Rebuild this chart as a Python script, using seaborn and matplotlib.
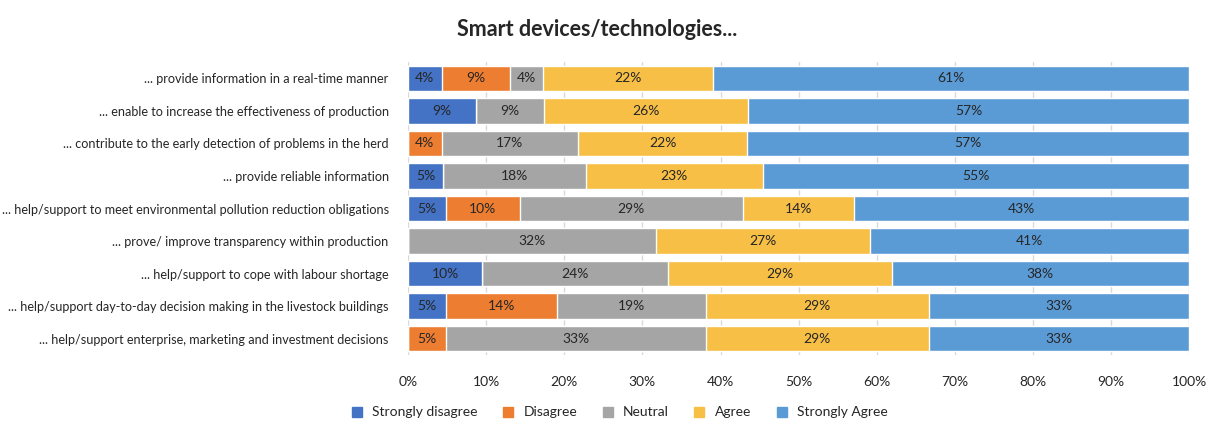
import numpy as np
import pandas as pd
import seaborn as sns
from matplotlib import pyplot as plt

statements = [
    "... provide information in a real-time manner",
    "... enable to increase the effectiveness of production",
    "... contribute to the early detection of problems in the herd",
    "... provide reliable information",
    "... help/support to meet environmental pollution reduction obligations",
    "... prove/ improve transparency within production",
    "... help/support to cope with labour shortage",
    "... help/support day-to-day decision making in the livestock buildings",
    "... help/support enterprise, marketing and investment decisions",
]
levels = ["Strongly disagree", "Disagree", "Neutral", "Agree", "Strongly Agree"]
colors = ["#4472C4", "#ED7D31", "#A5A5A5", "#F7BF45", "#5B9BD5"]

strongly_disagree = [4.3, 8.7, 0.0, 4.5, 4.8, 0.0, 9.5, 4.8, 0.0]
disagree = [8.7, 0.0, 4.3, 0.0, 9.5, 0.0, 0.0, 14.3, 4.8]
neutral = [4.3, 8.7, 17.4, 18.2, 28.6, 31.8, 23.8, 19.0, 33.3]
agree = [21.7, 26.1, 21.7, 22.7, 14.3, 27.3, 28.6, 28.6, 28.6]
strongly_agree = [60.9, 56.5, 56.5, 54.5, 42.9, 40.9, 38.1, 33.3, 33.3]

df = pd.DataFrame({
    "Strongly disagree": strongly_disagree,
    "Disagree": disagree,
    "Neutral": neutral,
    "Agree": agree,
    "Strongly Agree": strongly_agree,
}, index=statements)
labels = df.copy()
df = df.div(df.sum(axis=1), axis=0) * 100
cum = df.cumsum(axis=1)

sns.set_style("white")
plt.rcParams["font.family"] = ["Lato", "DejaVu Sans"]
txt = "#262626"

fig = plt.figure(figsize=(12.11, 4.23), dpi=100)
ax = fig.add_axes([0.337, 0.161, 0.645, 0.692])

# stacked bars: draw cumulative totals from the largest down
for lev, col in reversed(list(zip(levels, colors))):
    sns.barplot(x=cum[lev].values, y=statements, orient="h", color=col,
                width=0.78, ax=ax, saturation=1, legend=False, zorder=2)

for i, s in enumerate(statements):
    for lev in levels:
        v = df.loc[s, lev]
        if v < 0.5:
            continue
        c = cum.loc[s, lev] - v / 2
        ax.text(c, i, f"{int(labels.loc[s, lev] + 0.5)}%", ha="center", va="center",
                fontsize=10, color=txt, zorder=3)

ax.set_xlim(0, 100)
ax.set_xticks(np.arange(0, 101, 10))
ax.set_xticklabels([f"{t}%" for t in range(0, 101, 10)], fontsize=10, color=txt)
ax.tick_params(axis="y", labelsize=9.1, labelcolor=txt, length=0, pad=14)
ax.tick_params(axis="x", length=0, pad=15)
ax.xaxis.grid(True, color="#D9D9D9", linewidth=1, zorder=0)
ax.set_axisbelow(True)
ax.set_xlabel("")
ax.set_ylabel("")
ax.set_ylim(len(statements) - 0.5, -0.5)
sns.despine(left=True, bottom=True)

handles = [plt.Line2D([], [], marker="s", linestyle="", markersize=7, color=c) for c in colors]
fig.legend(handles, levels, loc="center", bbox_to_anchor=(0.508, 0.025), ncol=5,
           frameon=False, fontsize=10, handletextpad=0.1, columnspacing=1.2,
           labelcolor=txt)
fig.suptitle("Smart devices/technologies...", x=0.493, y=0.955, fontsize=15.5,
             fontweight="bold", color=txt)
fig.savefig("out.png", dpi=100)
